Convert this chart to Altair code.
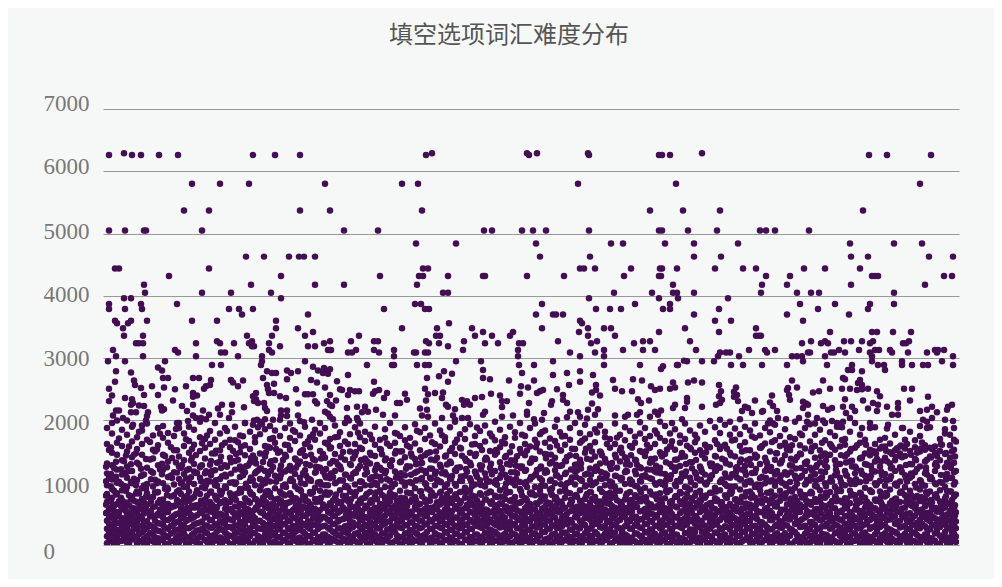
import altair as alt
import pandas as pd

TITLE = "填空选项词汇难度分布"
Y_TICKS = [0, 1000, 2000, 3000, 4000, 5000, 6000, 7000]

# sparse points of the upper chart: (rank, difficulty)
top_rows = {
    6290: [21, 329, 424, 434, 485, 599],
    6260: [6, 29, 38, 56, 75, 150, 172, 197, 323, 426, 486, 556, 559, 567, 766, 784, 828],
    5800: [89, 117, 146, 222, 299, 315, 475, 573, 817],
    5370: [81, 106, 197, 227, 319, 547, 580, 617, 760],
    5050: [6, 22, 41, 43, 99, 241, 275, 381, 389, 419, 430, 443, 486, 556, 559, 585, 614, 657, 663, 672, 706],
    4840: [313, 353, 433, 508, 520, 562, 591, 635, 747, 791, 819],
    4630: [143, 161, 186, 196, 201, 212, 437, 487, 591, 618, 748, 765, 826, 850],
    4440: [12, 16, 106, 320, 325, 477, 481, 492, 528, 557, 559, 574, 612, 640, 653, 701, 722, 757],
    4320: [66, 178, 277, 316, 320, 345, 380, 382, 424, 461, 521, 556, 558, 663, 687, 769, 772, 775, 841, 849],
    4180: [41, 148, 212, 241, 314, 570, 659, 684, 748, 822],
    4050: [42, 99, 128, 168, 340, 345, 511, 549, 570, 574, 591, 658, 694, 708, 716, 791],
    3960: [21, 28, 178, 486, 556, 575, 625],
    3870: [6, 38, 74, 312, 318, 439, 532, 567, 697, 732, 767, 791],
    3790: [6, 22, 39, 126, 136, 150, 281, 322, 326, 493, 507, 518, 560, 567, 616, 715, 765],
    3700: [139, 205, 433, 450, 453, 460, 591, 684, 746],
    3600: [12, 28, 44, 89, 114, 173, 477, 612, 628, 700],
    3560: [14, 25, 346, 479],
    3480: [20, 173, 195, 299, 334, 369, 439, 485, 501, 508, 582, 653],
    3420: [210, 380, 410, 476, 556, 616, 727, 769, 774, 790, 808],
    3360: [21, 40, 144, 169, 202, 256, 333, 337, 372, 389, 407, 485, 512, 653, 656, 658],
    3270: [114, 149, 227, 248, 271, 275, 323, 361, 455, 494, 540, 547, 587, 708, 722, 741, 748, 759, 770, 806],
    3240: [33, 36, 40, 93, 117, 131, 146, 166, 221, 326, 336, 382, 395, 416, 420, 488, 531, 699, 718, 725, 767, 800, 803],
    3190: [149, 151, 177, 205, 212, 345],
    3130: [10, 72, 166, 225, 227, 228, 253, 271, 291, 360, 415, 501, 520, 540, 552, 593, 646, 662, 672, 736, 756, 772, 776, 787, 832, 835, 841],
    3090: [75, 118, 122, 169, 245, 249, 276, 311, 313, 322, 325, 467, 492, 617, 623, 627, 664, 705, 707, 728, 731, 742, 767, 789, 805, 824, 834],
    3030: [13, 40, 93, 135, 159, 291, 415, 477, 501, 615, 636, 689, 694, 699, 722, 769, 850],
    2950: [5, 22, 62, 159, 202, 353, 378, 450, 584, 599, 611, 700, 769, 799, 839],
    2890: [109, 118, 158, 264, 289, 291, 314, 322, 326, 416, 431, 501, 537, 575, 628, 640, 659, 684, 724, 749, 775, 781, 799, 809, 820, 825, 850],
}

# loose points below 2900, read one by one
mid_x = [55, 59, 210, 13, 28, 164, 169, 173, 184, 188, 184, 195, 215, 221, 224, 227, 220, 225,
         60, 65, 90, 96, 108, 128, 130, 140, 160, 208, 214, 234, 12, 31, 32,
         6, 38, 49, 61, 72, 83, 107, 103, 101, 135, 164, 165, 171, 193, 222, 237,
         9, 41, 55, 90, 94, 90, 153, 150, 153, 166, 171, 177, 183, 202, 205, 210, 227,
         6, 22, 70, 29, 30, 28, 151, 155, 212, 214, 224, 233,
         36, 41, 58, 61, 59, 79, 90, 115, 119, 129, 141, 161, 162, 195, 229, 227,
         13, 16, 28, 33, 45, 44, 43, 84, 100, 129, 164, 178, 184, 222, 225,
         10, 14, 20, 24, 117, 106, 90, 93, 98, 103, 126, 178, 184, 195, 230, 227,
         39, 30, 85, 74, 142, 151, 154, 150, 159, 162, 170, 177, 201, 209,
         245, 324, 336, 341, 349, 345, 380, 387, 380, 419, 406, 450, 464, 477, 477, 466, 490, 510, 530, 539,
         271, 431, 418, 425, 239, 247, 245, 252, 256, 272, 276, 270, 284, 281, 302, 304, 322, 325, 332, 340,
         323, 339, 294, 297, 343, 352, 345, 364, 359, 361, 367, 372, 379, 388, 397, 404, 399, 399, 417, 426,
         437, 434, 440, 454, 460, 460, 464, 449, 448, 489, 493, 493, 497, 489, 512, 519, 529, 535, 538, 546, 548, 552,
         244, 254, 262, 259, 265, 273, 280, 292, 317, 324, 319, 325, 339, 350, 352, 359, 365, 382, 380, 399, 410, 424, 424,
         431, 439, 441, 454, 464, 467, 475, 477, 485, 492, 495, 484, 512, 522, 525, 534, 537, 547, 552, 555, 244, 246, 254, 255,
         558, 560, 574, 581, 570, 585, 591, 599, 567, 572, 557, 616, 618, 616, 633, 631, 634, 617, 613, 619, 635, 631, 652, 669, 667,
         572, 570, 584, 584, 582, 599, 558, 579, 569, 689, 685, 694, 684, 686, 687, 720, 727, 710, 716, 740, 742, 739, 747, 755, 759,
         757, 759, 754, 759, 765, 745, 749, 782, 801, 809, 825, 807, 774, 777, 700, 703, 700, 705, 720, 725, 729, 742, 740, 743, 749,
         752, 747, 760, 765, 770, 775, 774, 784, 789, 795, 795, 795, 817, 824, 829, 834, 829, 824, 820, 845, 849, 844, 642, 645, 649,
         639, 660, 659, 670, 674, 675, 670, 665, 683, 696, 705, 704, 712, 714, 720, 729, 734, 740, 734, 739, 759, 767, 772, 784, 785, 799, 800, 817, 824, 842, 850]
mid_y = [2850, 2800, 2860, 2790, 2770, 2790, 2760, 2760, 2800, 2760, 2660, 2790, 2800, 2840, 2790, 2820, 2760, 2750,
         2680, 2680, 2680, 2680, 2650, 2650, 2610, 2640, 2680, 2650, 2610, 2630, 2620, 2640, 2570,
         2510, 2520, 2550, 2530, 2500, 2550, 2570, 2550, 2510, 2550, 2570, 2500, 2590, 2500, 2530, 2500,
         2400, 2410, 2410, 2440, 2400, 2380, 2440, 2390, 2340, 2440, 2440, 2390, 2360, 2420, 2420, 2420, 2410,
         2310, 2360, 2320, 2340, 2280, 2250, 2310, 2280, 2310, 2270, 2310, 2320,
         2240, 2230, 2220, 2180, 2160, 2230, 2250, 2190, 2250, 2250, 2210, 2280, 2200, 2270, 2230, 2250,
         2160, 2160, 2130, 2130, 2130, 2070, 2000, 2150, 2160, 2130, 2150, 2160, 2160, 2140, 2110,
         2080, 2000, 2040, 2000, 2090, 2090, 2080, 2040, 2040, 2020, 2040, 2080, 2070, 2080, 2020, 2060,
         1920, 1930, 1990, 1960, 1960, 2000, 2010, 1930, 1940, 2020, 2010, 2010, 1970, 2010,
         2730, 2680, 2710, 2790, 2750, 2620, 2810, 2660, 2680, 2760, 2640, 2730, 2760, 2790, 2620, 2570, 2730, 2650, 2660, 2640,
         2620, 2640, 2550, 2530, 2490, 2490, 2410, 2470, 2470, 2470, 2490, 2430, 2440, 2360, 2430, 2330, 2510, 2420, 2440, 2450,
         2320, 2360, 2280, 2280, 2250, 2180, 2220, 2310, 2330, 2250, 2250, 2360, 2375, 2430, 2400, 2310, 2215, 2310, 2430, 2280,
         2470, 2440, 2490, 2500, 2410, 2330, 2280, 2310, 2250, 2450, 2490, 2570, 2400, 2270, 2510, 2470, 2470, 2340, 2280, 2320, 2550, 2490,
         2200, 2220, 2220, 2130, 2140, 2170, 2090, 2080, 2190, 2170, 2080, 2060, 2040, 2080, 2010, 2040, 2040, 2140, 2090, 2060, 2080, 2140, 2090,
         2020, 2010, 2120, 2010, 2050, 2140, 2130, 2060, 2170, 2090, 2180, 2030, 2080, 2060, 2090, 2090, 2130, 2060, 2140, 2090, 2040, 2000, 2040, 2000,
         2825, 2870, 2890, 2960, 2610, 2610, 2640, 2610, 2510, 2530, 2510, 2570, 2470, 2390, 2530, 2460, 2410, 2280, 2250, 2330, 2310, 2380, 2320, 2400, 2290,
         2250, 2200, 2360, 2300, 2200, 2220, 2160, 2020, 1960, 2640, 2520, 2530, 2490, 2410, 2330, 2640, 2510, 2450, 2470, 2680, 2660, 2510, 2510, 2600, 2790,
         2650, 2570, 2490, 2500, 2510, 2810, 2810, 2810, 2510, 2510, 2380, 2320, 2470, 2390, 2300, 2270, 2200, 2250, 2230, 2170, 2200, 2340, 2220, 2120, 2220,
         2150, 2040, 2320, 2190, 2280, 2250, 2150, 2220, 2090, 2280, 2200, 2090, 2150, 2170, 2220, 2130, 2040, 1980, 2010, 2220, 2250, 2170, 2220, 2200, 2120,
         2150, 2150, 2140, 2230, 2150, 2040, 1950, 1950, 2020, 2040, 2090, 1980, 1950, 2040, 2000, 1990, 1900, 1980, 1960, 1890, 1880, 1960, 1890, 1870, 1930, 1880, 1880, 1910, 1880, 2010, 1990]

# dense part of the chart, one row per column: rank, then difficulties
band_a = [
 [4,30,140,260,390,520,690,820,960,1150,1310,1620,1880],
 [9,80,190,320,470,610,760,900,1050,1280,1480,1790,1960],
 [14,20,130,240,360,500,660,830,1000,1210,1450,1640],
 [19,70,210,300,430,590,720,880,1130,1360,1590,1850],
 [24,40,150,270,400,530,480,640,930,1080,1260,1500,1770],
 [29,90,180,330,450,600,780,990,1190,1410,1660,1900],
 [34,30,120,250,370,510,690,860,1040,1320,1540,1730],
 [39,70,200,310,420,570,740,910,1120,1450,1620,1840],
 [44,20,140,280,380,540,650,830,980,1240,1690,1950],
 [50,60,170,290,460,610,770,940,1160,1390,1530,1760],
 [55,30,110,230,350,500,680,850,1020,1280,1600,1880],
 [60,80,190,320,440,580,730,990,1210,1450,1720,1910],
 [65,20,130,260,400,530,660,900,1090,1340,1640,1800],
 [71,70,210,340,470,620,800,970,1170,1520,1750],
 [76,40,150,250,380,510,690,880,1060,1260,1420,1880,1960],
 [81,90,180,300,430,570,740,930,1140,1360,1590,1790],
 [86,30,120,270,410,550,710,860,1010,1220,1480,1670,1900],
 [91,60,190,330,450,600,770,980,1180,1300,1610,1850],
 [97,20,140,240,360,520,650,820,1080,1250,1510,1730,1980],
 [102,80,210,310,440,590,730,910,1150,1390,1560,1700],
 [107,40,130,280,400,540,690,840,1020,1290,1620,1830],
 [112,70,170,320,470,610,790,960,1200,1470,1690,1960],
 [117,30,120,260,380,500,670,870,1060,1340,1520,1790],
 [122,90,200,340,420,580,720,940,1130,1280,1640,1880],
 [127,20,150,290,410,560,690,830,1000,1400,1570,1690],
 [132,60,180,310,460,620,810,980,1210,1350,1680,1900],
 [137,40,110,250,370,530,660,900,1090,1260,1490,1760],
 [142,80,210,330,450,590,750,920,1170,1440,1600,1960],
 [147,20,140,270,400,510,680,850,1030,1320,1540,1820],
 [152,70,190,300,430,570,740,960,1150,1380,1650,1730],
 [157,30,120,260,390,540,700,880,1060,1230,1470,1780,1980],
 [162,90,170,320,470,610,790,990,1190,1420,1590,1860],
 [167,40,140,240,360,500,650,840,1020,1300,1560,1700,1910],
 [172,60,200,310,440,580,730,910,1110,1360,1640,1840],
 [177,20,130,280,410,550,670,860,1070,1210,1500,1750],
 [182,80,190,340,460,620,800,970,1180,1450,1610,1880],
 [187,30,150,250,380,520,690,830,1030,1270,1530,1720,1950],
 [192,70,210,300,430,590,750,940,1140,1390,1670,1820],
 [197,40,120,270,400,540,710,890,1080,1340,1480,1760,1990],
 [202,90,180,320,470,600,780,980,1200,1430,1620,1900],
 [207,20,140,260,360,510,660,850,1050,1280,1570,1730],
 [212,60,200,330,450,580,740,920,1160,1360,1690,1850],
 [217,30,130,290,410,560,700,870,1010,1240,1510,1790,1960],
 [222,80,170,310,440,620,810,960,1120,1400,1640,1880],
 [227,40,110,250,380,520,670,840,1070,1310,1550,1700],
 [232,70,190,340,460,590,760,990,1190,1460,1730,1920],
 [237,20,150,270,400,540,690,880,1040,1260,1590,1810],
 [242,90,210,300,430,570,730,930,1130,1370,1660,1960],
 [247,30,120,260,390,510,650,860,1080,1300,1500,1780],
 [252,60,180,320,470,610,790,970,1170,1440,1620,1890],
]
band_b = [
 [257,40,140,290,410,550,720,900,1020,1270,1560,1730,1950],
 [262,80,200,330,450,590,760,960,1130,1390,1670,1820],
 [267,20,130,250,370,520,680,850,1060,1310,1480,1770],
 [272,70,170,310,440,600,780,1000,1200,1430,1610,1900],
 [277,30,110,270,400,540,660,880,1090,1240,1540,1690],
 [282,90,190,340,470,580,740,930,1150,1360,1720,1860],
 [287,40,150,260,380,510,700,840,1030,1290,1590,1960],
 [292,60,210,300,430,620,800,980,1180,1470,1640,1800],
 [297,20,120,280,410,560,670,870,1070,1330,1500,1750],
 [302,80,180,320,460,590,750,950,1120,1410,1680,1890],
 [307,30,140,240,360,530,690,830,1010,1260,1570,1720],
 [312,70,200,310,450,610,770,910,1160,1380,1630,1940],
 [317,40,130,270,390,500,660,860,1050,1310,1520,1810],
 [322,90,170,330,470,580,730,990,1190,1440,1700,1880],
 [327,20,110,260,400,540,710,880,1080,1230,1490,1760],
 [332,60,190,300,430,620,790,960,1140,1360,1620,1950],
 [337,30,150,280,380,520,650,840,1020,1290,1580,1840],
 [342,80,210,340,460,570,740,930,1170,1420,1670,1730],
 [347,40,120,250,410,550,690,870,1060,1340,1510,1890],
 [352,70,180,310,440,600,800,980,1200,1460,1640,1980],
 [357,20,140,270,370,510,670,850,1030,1250,1560,1780],
 [362,90,200,320,450,590,760,920,1110,1390,1700,1860],
 [367,30,130,260,400,540,700,880,1070,1320,1480,1940],
 [372,60,170,340,470,610,780,970,1180,1430,1620,1750],
 [377,40,110,290,380,530,650,830,1040,1280,1590,1830],
 [382,80,190,300,430,570,730,940,1150,1370,1660,1920],
 [387,20,150,250,410,520,690,860,1020,1240,1510,1790],
 [392,70,210,330,460,600,790,990,1190,1450,1680,1980],
 [397,30,120,280,390,550,670,880,1080,1330,1570,1850],
 [402,90,180,310,440,580,740,920,1130,1410,1630,1730],
 [407,40,140,260,370,510,710,850,1060,1290,1490,1900],
 [412,60,170,340,470,620,770,960,1170,1360,1720,1810],
 [417,20,130,270,400,540,680,900,1010,1260,1540,1960],
 [422,80,170,320,450,590,750,980,1190,1440,1620,1750],
 [427,30,110,250,380,530,660,840,1050,1320,1580,1880],
 [432,70,190,300,430,570,800,930,1120,1380,1690,1950],
 [437,40,150,290,410,510,700,870,1070,1230,1500,1780],
 [442,90,210,330,460,610,780,950,1160,1460,1640,1840],
 [447,20,120,260,390,550,670,890,1030,1310,1570,1710],
 [452,60,180,310,440,590,730,990,1200,1400,1670,1900],
 [457,30,140,280,370,520,690,860,1080,1270,1520,1810],
 [462,80,200,340,470,600,760,920,1140,1350,1610,1750],
 [467,40,130,250,400,540,650,830,1010,1440,1690,1880],
 [472,70,170,300,450,580,790,970,1180,1290,1540,1960],
 [477,20,110,270,380,510,710,880,1060,1370,1640,1800],
 [482,90,190,320,430,620,740,940,1130,1480,1710,1930],
 [487,30,150,260,410,560,680,850,1040,1230,1590,1780],
 [492,60,210,340,460,590,770,990,1190,1420,1650,1860],
 [497,40,120,290,390,530,700,900,1070,1310,1500,1920],
 [502,80,180,310,440,570,750,960,1150,1380,1730,1820],
 [507,20,140,250,370,510,660,840,1020,1270,1560,1700],
 [512,70,200,330,470,600,780,930,1110,1450,1620,1950],
 [517,30,130,270,400,550,690,870,1080,1340,1520,1770],
 [522,90,170,300,450,590,730,980,1170,1410,1680,1890],
 [527,40,110,260,380,520,670,850,1050,1290,1590,1830],
 [532,60,190,320,430,610,800,950,1190,1370,1640,1740],
]
band_c = [
 [537,20,150,280,410,540,710,890,1030,1250,1510,1790,1970],
 [542,80,210,340,460,580,760,920,1120,1430,1700,1880],
 [547,30,120,250,390,510,650,860,1070,1320,1560,1750],
 [552,70,180,310,440,600,790,990,1180,1390,1620,1840],
 [557,40,140,270,370,530,690,830,1010,1240,1490,1720,1980],
 [562,90,200,330,470,590,750,950,1140,1460,1670,1910],
 [567,20,130,260,400,550,680,880,1060,1300,1580,1790],
 [572,60,170,300,450,620,770,970,1190,1370,1530,1860],
 [577,30,110,290,380,510,700,850,1020,1270,1640,1760],
 [582,80,190,320,430,570,740,930,1110,1420,1700,1950],
 [587,40,150,250,410,540,660,890,1080,1330,1560,1840],
 [592,70,210,340,460,600,790,960,1170,1480,1650,1770],
 [597,20,120,280,390,530,720,870,1040,1260,1520,1920],
 [602,90,180,310,440,590,760,990,1130,1390,1610,1820],
 [607,30,140,260,370,510,670,840,1060,1310,1570,1990],
 [612,60,200,330,470,580,750,920,1190,1430,1680,1890],
 [617,40,130,270,400,550,690,880,1010,1240,1540,1800,2010],
 [622,80,170,300,450,610,800,980,1150,1360,1610,1930],
 [627,20,110,250,380,520,660,850,1080,1290,1480,1770,1980],
 [632,70,190,320,430,570,730,940,1120,1420,1690,1870],
 [637,30,150,290,410,540,700,890,1050,1330,1590,1780,2020],
 [642,90,210,340,460,590,780,970,1180,1270,1650,1900],
 [647,40,120,260,390,510,650,860,1030,1380,1520,1840],
 [652,60,180,310,440,600,760,930,1160,1450,1720,1950],
 [657,20,140,270,370,530,690,880,1070,1300,1560,1760],
 [662,80,200,330,470,580,740,990,1190,1400,1630,1880],
 [667,30,130,250,400,550,670,840,1020,1250,1500,1810,2000],
 [672,70,170,300,450,620,790,950,1130,1370,1680,1930],
 [677,40,110,280,380,510,710,870,1060,1310,1590,1750],
 [682,90,190,320,430,570,750,980,1170,1440,1640,1860],
 [687,20,150,260,410,540,680,890,1010,1280,1520,1730],
 [692,60,210,340,460,590,770,920,1110,1360,1700,1980],
 [697,30,120,290,390,530,650,860,1080,1470,1600,1790],
 [702,80,180,310,440,610,800,970,1190,1320,1550,1880],
 [707,40,140,250,370,520,690,830,1040,1240,1660,1940],
 [712,70,200,330,470,570,740,950,1140,1400,1590,1770],
 [717,20,130,270,400,550,700,880,1060,1330,1520,1850],
 [722,90,170,300,450,600,760,990,1170,1280,1470,1680,1960],
 [727,30,110,260,380,510,660,850,1020,1450,1620,1810],
 [732,60,190,320,430,590,780,930,1120,1360,1530,1750],
 [737,40,150,280,410,540,710,890,1080,1300,1580,1900],
 [742,80,210,340,460,620,750,960,1190,1420,1610,1700],
 [747,20,120,250,390,530,670,870,1040,1340,1500,1820],
 [752,70,180,310,440,570,800,980,1150,1260,1560,1960],
 [757,30,140,270,370,510,690,840,1010,1390,1640,1770],
 [762,90,200,330,470,600,760,920,1110,1300,1470,1690],
 [767,40,130,260,400,550,650,880,1070,1440,1530,1880],
 [772,60,170,300,450,590,730,990,1180,1340,1620,1500],
 [777,20,110,290,380,520,700,860,1030,1260,1550,1690],
 [782,80,190,320,430,610,780,950,1140,1400,1580,1720],
 [787,30,150,250,410,540,670,890,1060,1310,1490,1630],
 [792,70,210,340,460,570,740,970,1190,1360,1520,1770],
 [797,40,120,280,390,530,690,840,1020,1250,1470,1580],
 [802,90,180,310,440,600,800,930,1120,1430,1550,1690],
 [807,20,140,260,370,510,650,870,1080,1300,1510,1820],
 [812,60,200,330,470,590,760,980,1170,1380,1570,1680],
 [817,30,130,270,400,550,710,890,1040,1260,1500,1750],
 [822,80,170,300,450,620,740,950,1150,1340,1530,1600],
 [827,40,110,250,380,520,670,860,1060,1420,1560,1890],
 [832,70,190,320,430,570,790,990,1190,1290,1480,1580],
 [837,20,150,290,410,540,700,880,1010,1360,1510,1700],
 [842,90,210,340,460,600,750,930,1120,1250,1460,1790,1860],
 [847,30,120,260,390,530,660,860,1080,1400,1600,1770],
 [851,60,180,310,440,590,780,970,1170,1320,1530,1690,1880],
]

# second pass over the dense part, in between the columns above
fill_a = [
 [6,57,163,228,341,437,583,741,1093,1527],
 [11,12,97,205,286,412,548,627,872,1238],
 [16,66,172,351,463,529,703,1017,1712],
 [21,118,239,308,397,571,668,946,1346],
 [26,23,88,215,362,488,637,798,1186,1583],
 [31,141,267,324,419,556,712,1063,1451],
 [36,51,176,299,443,597,825,1294,1817],
 [41,14,103,236,371,506,684,957,1131],
 [47,78,193,318,458,542,763,1372,1655],
 [52,37,126,258,389,618,849,1047,1503],
 [57,95,222,345,477,566,722,1214,1788],
 [62,9,154,281,403,523,656,903,1428],
 [68,62,183,304,431,603,778,1116,1569],
 [73,28,112,247,366,494,641,1325,1864],
 [78,85,207,327,455,588,818,988,1237],
 [83,16,137,268,384,512,692,1071,1696],
 [89,71,166,295,428,631,752,1402,1541],
 [94,33,99,231,348,476,604,879,1158],
 [99,124,256,377,509,673,926,1282,1634],
 [104,48,188,313,449,562,791,1033,1759],
 [109,11,147,277,398,535,645,1189,1471],
 [114,83,219,338,468,602,727,952,1320],
 [119,26,105,243,357,481,851,1104,1602],
 [124,69,174,291,423,559,696,1256,1831],
 [130,18,131,262,392,527,768,1009,1513],
 [135,92,208,316,448,614,833,1368,1648],
 [140,35,158,284,373,498,637,1121,1747],
 [145,61,117,229,407,576,712,918,1276],
 [150,13,195,336,462,547,805,1043,1439],
 [155,76,143,271,386,633,689,1197,1892],
 [160,29,101,253,354,512,757,986,1333],
 [165,87,226,319,441,593,866,1128,1578],
 [170,42,161,298,415,538,664,1252,1719],
 [175,15,123,248,367,486,742,1076,1482],
 [180,68,201,331,457,607,813,949,1366],
 [185,24,134,274,399,528,679,1213,1603],
 [190,96,178,306,438,563,725,1025,1841],
 [195,39,108,237,359,501,642,897,1297],
 [200,54,216,343,474,619,782,1154,1526],
 [205,17,146,286,382,544,698,1067,1665],
 [210,81,192,322,426,579,846,1381,1778],
 [215,31,115,255,369,491,733,1002,1249],
 [220,72,167,301,451,597,651,1178,1463],
 [225,21,128,278,404,532,805,958,1612],
 [230,93,212,335,467,568,716,1093,1350],
 [235,45,155,263,376,516,672,1288,1739],
 [240,64,103,224,418,604,789,1036,1494],
 [245,19,181,312,443,551,706,924,1623],
 [250,84,139,289,361,479,837,1142,1389],
 [255,36,198,329,453,587,668,1223,1804],
]
fill_b = [
 [259,75,121,252,396,534,746,1011,1541],
 [264,27,170,307,437,612,824,1168,1344],
 [269,90,204,341,465,566,685,1087,1698],
 [274,46,137,265,383,502,733,964,1285],
 [279,13,185,320,425,591,801,1203,1458],
 [284,67,109,244,374,527,656,1055,1631],
 [289,32,218,296,456,603,772,936,1362],
 [294,86,153,337,409,548,711,1138,1788],
 [299,22,127,273,382,483,668,1019,1505],
 [304,59,191,315,447,624,845,1263,1597],
 [309,38,98,236,365,539,729,993,1419],
 [314,74,175,302,420,575,652,1181,1835],
 [319,16,144,283,393,513,782,1074,1318],
 [324,92,209,344,461,597,704,907,1472],
 [329,43,119,258,378,528,839,1226,1648],
 [334,65,163,310,432,571,688,1048,1399],
 [339,25,131,267,408,495,754,1153,1762],
 [344,79,196,326,452,616,813,975,1293],
 [349,34,106,241,356,542,676,1106,1558],
 [354,56,184,293,439,583,737,1241,1692],
 [359,11,149,279,402,505,857,1028,1434],
 [364,82,213,333,470,594,647,1177,1347],
 [369,41,125,256,372,521,796,942,1615],
 [374,63,168,305,428,606,715,1095,1885],
 [379,28,136,274,385,487,665,1274,1525],
 [384,94,200,339,449,564,829,1012,1376],
 [389,18,112,230,363,536,702,1134,1743],
 [394,71,177,314,416,589,769,966,1486],
 [399,37,151,288,391,473,660,1218,1659],
 [404,58,104,247,354,547,858,1077,1301],
 [409,23,190,323,459,601,727,1004,1586],
 [414,88,142,270,433,557,680,1149,1425],
 [419,44,217,308,380,499,795,1259,1772],
 [424,66,118,239,412,623,712,933,1519],
 [429,15,173,297,446,573,842,1091,1388],
 [434,80,133,281,364,518,654,1206,1633],
 [439,33,206,328,425,585,748,1039,1815],
 [444,55,101,253,397,492,687,1172,1452],
 [449,26,165,316,471,608,803,911,1336],
 [454,91,129,268,377,537,723,1119,1597],
 [459,47,197,303,434,582,661,1279,1741],
 [464,73,156,332,405,504,836,992,1413],
 [469,12,113,245,359,553,705,1084,1547],
 [474,60,186,287,442,616,774,1196,1292],
 [479,35,140,325,394,525,648,1031,1675],
 [484,85,214,262,466,576,819,1146,1383],
 [489,20,122,300,369,494,737,959,1502],
 [494,69,178,342,418,599,691,1224,1806],
 [499,40,135,276,451,540,852,1060,1441],
 [504,95,202,251,387,511,670,1125,1620],
 [509,29,160,317,429,628,786,1003,1315],
 [514,77,107,289,376,556,718,1242,1724],
 [519,49,193,234,457,485,644,1070,1477],
 [524,14,148,330,401,595,827,1185,1358],
 [529,83,120,266,438,533,698,1016,1563],
 [534,31,181,309,353,610,761,938,1290],
]
fill_c = [
 [539,61,126,272,416,549,745,1102,1493],
 [544,24,199,335,448,591,690,1214,1611],
 [549,89,154,248,375,503,811,1058,1348],
 [554,42,110,306,459,622,733,1165,1786],
 [559,70,187,283,393,531,663,980,1421],
 [564,17,138,327,434,574,848,1099,1535],
 [569,97,205,256,366,497,704,1255,1664],
 [574,36,166,311,442,605,772,1027,1372],
 [579,58,104,274,403,544,656,1148,1478],
 [584,12,192,339,464,586,823,923,1594],
 [589,76,145,243,382,515,711,1231,1329],
 [594,47,118,298,427,630,679,1073,1710],
 [599,84,213,320,356,558,792,1177,1445],
 [604,26,171,269,454,488,648,1005,1577],
 [609,65,129,304,411,599,838,1118,1303],
 [614,39,198,334,373,524,727,1264,1622],
 [619,92,152,252,447,569,685,1052,1386],
 [624,19,107,287,396,510,755,947,1546],
 [629,73,183,318,469,613,854,1135,1679],
 [634,30,141,261,358,541,697,1085,1251],
 [639,55,216,342,431,583,776,1210,1500],
 [644,88,123,279,387,493,640,1014,1355],
 [649,13,176,307,452,606,809,1156,1744],
 [654,68,134,235,419,552,716,970,1423],
 [659,44,201,325,365,527,669,1097,1590],
 [664,96,158,290,474,595,840,1233,1318],
 [669,22,114,259,398,508,748,1039,1652],
 [674,79,189,331,440,618,682,1188,1472],
 [679,34,147,276,360,565,787,1000,1361],
 [684,60,102,313,426,480,651,1126,1534],
 [689,16,208,246,455,589,857,1271,1603],
 [694,85,165,338,383,526,706,982,1414],
 [699,51,127,293,412,611,763,1110,1764],
 [704,28,195,266,470,545,674,1045,1339],
 [709,75,143,322,368,499,830,1198,1562],
 [714,41,111,254,433,578,723,935,1285],
 [719,93,180,301,406,624,644,1082,1640],
 [724,14,156,344,461,537,795,1247,1441],
 [729,66,124,275,379,592,707,1021,1575],
 [734,37,205,312,425,506,859,1163,1306],
 [739,81,167,239,392,553,686,976,1686],
 [744,25,132,296,466,604,741,1112,1459],
 [749,57,193,328,352,482,816,1262,1352],
 [754,90,109,263,414,571,658,1008,1601],
 [759,43,177,306,445,532,774,1145,1400],
 [764,18,150,341,389,617,695,1067,1290],
 [769,72,121,284,430,495,851,1201,1515],
 [774,35,211,257,371,560,728,985,1380],
 [779,99,162,316,458,582,647,1124,1577],
 [784,49,138,272,401,519,801,1042,1345],
 [789,63,100,229,436,609,712,1246,1460],
 [794,21,184,335,369,541,675,953,1555],
 [799,87,146,294,472,587,842,1170,1410],
 [804,38,116,252,395,501,739,1020,1620],
 [809,70,197,323,424,626,665,1108,1298],
 [814,27,159,281,357,548,785,1220,1480],
 [819,94,128,340,448,570,702,971,1645],
 [824,46,175,264,410,515,820,1130,1370],
 [829,59,105,309,463,598,683,1055,1540],
 [834,15,190,249,381,533,758,1265,1430],
 [839,82,148,327,435,584,654,998,1610],
 [844,33,120,288,400,489,869,1140,1320],
 [849,74,203,347,477,615,722,1075,1500],
 [853,50,137,268,378,525,810,1190,1660],
]

# third pass over the band between 500 and 1700
fill_d = [
 [3,512,648,793,1024,1257],[8,571,704,941,1142,1566],[13,463,812,1096,1338],[18,629,758,978,1215],
 [23,547,681,866,1166,1437],[28,503,734,1011,1298],[33,588,826,959,1473],[38,456,662,1109,1226],
 [43,612,773,903,1379],[48,534,697,1056,1184],[54,479,841,992,1532],[59,655,716,1135,1306],
 [64,568,803,924,1247],[69,441,626,1074,1398],[74,723,857,1162,1523],[79,516,669,1003,1286],
 [84,594,785,937,1204],[88,482,742,1088,1355],[93,637,829,1154,1444],[98,553,709,1029,1271],
 [103,458,676,968,1183],[108,617,861,1121,1350],[113,525,752,1039,1512],[118,691,806,1235,1417],
 [123,473,635,915,1098],[128,579,781,1146,1328],[133,506,724,1005,1460],[138,650,848,1207,1576],
 [143,544,695,983,1263],[148,466,817,1082,1396],[153,601,733,1171,1310],[158,521,662,945,1227],
 [163,687,859,1050,1489],[168,575,766,1192,1344],[173,449,624,1017,1543],[178,713,835,1126,1276],
 [183,538,673,930,1422],[188,492,794,1061,1195],[193,642,747,1240,1370],[198,561,868,996,1507],
 [203,470,705,1114,1302],[208,616,823,1033,1450],[213,529,688,1176,1258],[218,454,760,972,1389],
 [223,596,847,1085,1222],[228,508,639,1147,1565],[233,721,810,1002,1336],[238,557,665,1216,1408],
 [243,483,787,948,1130],[248,608,734,1068,1283],[253,540,852,1159,1494],[258,461,678,1021,1365],
 [263,631,797,1230,1319],[268,517,717,960,1446],[273,585,842,1107,1241],[278,446,652,1043,1530],
 [283,700,775,1190,1387],[288,566,820,926,1265],[293,493,641,1078,1511],[298,613,759,1151,1340],
 [303,527,694,998,1224],[308,472,833,1127,1469],[313,650,719,1038,1295],[318,549,864,1209,1410],
 [323,511,681,970,1156],[328,598,790,1064,1372],[333,457,627,1178,1501],[338,712,854,1009,1247],
 [343,533,668,1131,1436],[348,486,746,1054,1317],[353,624,814,952,1189],[358,572,702,1101,1548],
 [363,451,839,1219,1354],[368,645,763,1026,1279],[373,518,685,1139,1463],[378,592,808,965,1213],
 [383,476,729,1072,1401],[388,663,851,1194,1303],[393,536,640,1041,1527],[398,501,776,1123,1239],
 [403,620,829,985,1428],[408,558,706,1168,1360],[413,448,657,1059,1271],[418,689,863,1236,1481],
 [423,530,743,1012,1205],[428,603,816,1090,1335],[433,468,672,1144,1568],[438,718,798,947,1260],
 [443,547,638,1200,1392],[448,509,835,1047,1451],[453,634,765,1117,1287],[458,570,693,976,1518],
 [463,443,855,1161,1344],[468,652,727,1035,1211],[473,523,804,1092,1430],[478,589,670,1229,1309],
 [483,489,782,954,1545],[488,614,846,1128,1368],[493,544,709,1006,1255],[498,460,631,1173,1487],
 [503,677,820,1076,1325],[508,555,754,939,1221],[513,496,866,1106,1405],[518,626,690,1047,1561],
 [523,519,789,1187,1293],[528,581,724,981,1440],[533,452,659,1137,1357],[538,701,843,1020,1231],
 [543,538,767,1094,1506],[548,605,652,1210,1380],[553,478,811,968,1274],[558,573,733,1153,1455],
 [563,512,866,1037,1328],[568,640,698,1120,1585],[573,445,785,944,1243],[578,693,829,1069,1413],
 [583,526,660,1182,1300],[588,599,752,1013,1538],[593,462,841,1141,1363],[598,628,714,1048,1225],
 [603,551,793,973,1489],[608,490,675,1110,1266],[613,707,858,1198,1419],[618,535,649,1030,1576],
 [623,577,776,1086,1312],[628,455,821,935,1442],[633,619,736,1173,1237],[638,513,683,1052,1373],
 [643,668,849,1129,1520],[648,586,758,1003,1285],[653,474,642,1221,1402],[658,710,807,962,1560],
 [663,541,726,1075,1349],[668,497,860,1190,1252],[673,633,670,1018,1475],[678,564,782,1114,1320],
 [683,447,831,950,1593],[688,684,746,1167,1384],[693,520,641,1060,1229],[698,602,813,1238,1458],
 [703,483,720,993,1301],[708,646,854,1100,1506],[713,554,689,1035,1254],[718,507,777,1180,1425],
 [723,625,838,942,1359],[728,442,665,1081,1602],[733,703,758,1208,1283],[738,530,866,1015,1443],
 [743,590,650,1132,1326],[748,467,795,979,1540],[753,639,732,1056,1236],[758,548,821,1191,1399],
 [763,505,676,1028,1610],[768,615,853,1116,1268],[773,453,707,960,1467],[778,682,775,1175,1342],
 [783,569,834,1044,1515],[788,488,643,1103,1231],[793,627,746,988,1415],[798,536,861,1215,1598],
 [803,468,690,1071,1283],[808,702,804,1150,1449],[813,583,656,925,1360],[818,510,769,1024,1551],
 [823,648,849,1196,1246],[828,449,721,1088,1406],[833,595,816,975,1320],[838,526,663,1126,1618],
 [843,690,783,1051,1477],[848,563,858,1235,1295],[852,476,637,1008,1420],
]

xs, ys = [], []
for value, ranks in top_rows.items():
    for rank in ranks:
        xs.append(rank)
        ys.append(value)
xs.extend(mid_x)
ys.extend(mid_y)
for band in (band_a, band_b, band_c, fill_a, fill_b, fill_c, fill_d):
    for column in band:
        for value in column[1:]:
            xs.append(column[0])
            ys.append(value)
n = min(len(xs), len(ys))
df = pd.DataFrame({"rank": xs[:n], "difficulty": ys[:n]})

FONT = "Liberation Serif, Noto Sans CJK SC"
chart = (
    alt.Chart(df)
    .mark_circle(size=42, color="#430f52", opacity=1, clip=True)
    .encode(
        x=alt.X("rank:Q", scale=alt.Scale(domain=[0, 856], nice=False, zero=False), axis=None),
        y=alt.Y(
            "difficulty:Q",
            scale=alt.Scale(domain=[0, 7000], nice=False),
            axis=alt.Axis(
                values=Y_TICKS,
                format="d",
                title=None,
                grid=True,
                gridColor="#999999",
                gridWidth=1,
                domain=False,
                ticks=False,
                labelAlign="left",
                labelPadding=60,
                labelFont="Liberation Serif",
                labelFontSize=23,
                labelColor="#777777",
                labelFontWeight="normal",
                labelOffset={"expr": "[6,3,2,0,-1,-2,-5,-6][datum.value/1000]"},
            ),
        ),
    )
    .properties(
        width=856,
        height=436,
        background="#f6f8f8",
        padding={"left": 95, "top": 101, "right": 35, "bottom": 34},
        autosize=alt.AutoSizeParams(type="none"),
        title=alt.TitleParams(
            TITLE,
            font=FONT,
            fontSize=24,
            fontWeight="normal",
            color="#555555",
            anchor="middle",
            offset=44,
            dx=-22,
        ),
    )
    .configure_view(stroke=None)
)
chart.save("out.html", embed_options={"renderer": "svg", "actions": False})
